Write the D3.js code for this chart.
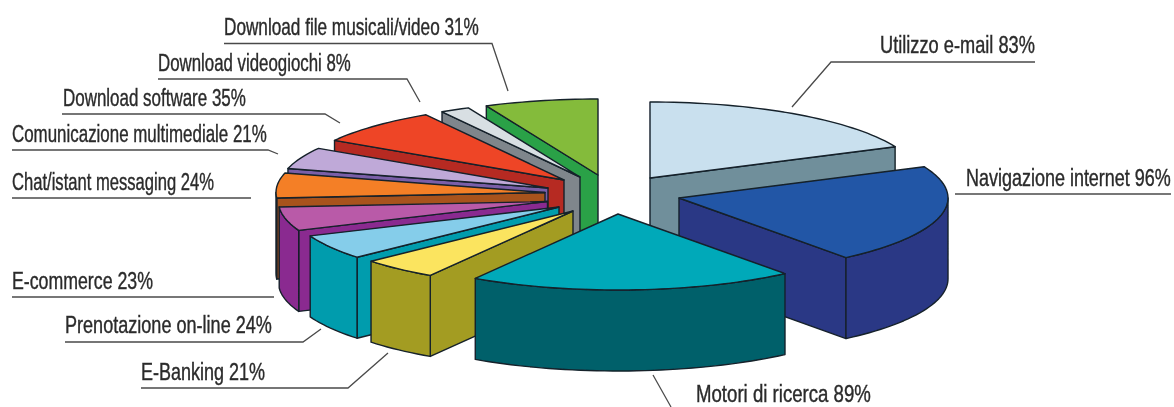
<!DOCTYPE html>
<html>
<head>
<meta charset="utf-8">
<script src="https://cdn.jsdelivr.net/npm/d3@7"></script>
<style>
  html, body { margin: 0; background: #fff; overflow: hidden; }
  svg { display: block; }
  text { font-family: "Liberation Sans Narrow", "Liberation Sans", sans-serif; fill: #2b2b2b; stroke: #2b2b2b; stroke-width: 0.4; }
</style>
</head>
<body>
<svg></svg>
<script>
// dati del grafico
const categories = ["Utilizzo e-mail", "Navigazione internet", "Motori di ricerca", "E-Banking",
    "Prenotazione on-line", "E-commerce", "Chat/istant messaging", "Comunicazione multimediale",
    "Download software", "Download videogiochi", "Download file musicali/video"];
const values = [83, 96, 89, 21, 24, 23, 24, 21, 35, 8, 31];

// colori: faccia superiore e pareti
const topColors = ["#c9e0ee", "#2356a6", "#00a9b9", "#fbe45e", "#85cdea", "#b95aa8", "#f47f26", "#bfa9d8", "#ee4527", "#d8dfe3", "#84bb3a"];
const wallColors = ["#6f8f9b", "#2b3785", "#00606b", "#a39c22", "#009cad", "#8a2a90", "#a8521f", "#7a5fa8", "#b62c20", "#7f868c", "#2aa147"];

// vertice di ogni fetta esplosa
const apexX = [650, 679, 618, 573, 559, 547.5, 545, 548, 564, 580, 598];
const apexY = [178, 198, 214, 211, 207, 201.5, 192.5, 188, 180, 177, 175];
// ordine di disegno, dal fondo al davanti
const drawOrder = [10, 9, 8, 7, 6, 5, 4, 3, 0, 1, 2];

// etichette: inizio/fine testo, baseline, linea guida
const labelX0 = [880, 966, 696, 141, 65, 12, 12, 12, 63, 158, 224];
const labelX1 = [1035, 1171, 871, 265, 272, 153, 214, 267, 246, 351, 479];
const labelY = [53, 186, 402, 380, 333, 289, 190, 142, 106, 71, 35];
const leaders = [
    [[1035, 62], [831, 62], [792, 107]],
    [[1171, 194], [955, 194]],
    [[671, 407], [653, 375]],
    [[141, 388], [348, 388], [388, 353]],
    [[65, 342], [303, 342], [321, 329]],
    [[12, 297], [274, 297]],
    [[12, 198], [251, 198]],
    [[12, 150], [268, 150], [278, 154]],
    [[62, 114], [325, 114], [340, 123]],
    [[158, 79], [407, 79], [420, 102]],
    [[224, 43.5], [492, 43.5], [508, 91]]
];

const width = 1174, height = 407;
const rx = 269, ry = 76, depth = 81;

const svg = d3.select("svg").attr("width", width).attr("height", height);

// leggera sfocatura come nella scansione
svg.append("defs").append("filter").attr("id", "soft")
    .append("feGaussianBlur").attr("stdDeviation", 0.4);
const root = svg.append("g").attr("filter", "url(#soft)");

const pie = d3.pie().sort(null).startAngle(0).endAngle(2 * Math.PI);
const arcs = pie(values);

const line = d3.line();

// punto sull'ellisse, angolo 0 in alto e senso orario
function pt(i, a, dz) {
    return [apexX[i] + Math.sin(a) * rx, apexY[i] - Math.cos(a) * ry + (dz || 0)];
}
function arcPoints(i, a0, a1, dz) {
    const n = Math.max(2, Math.ceil((a1 - a0) / 0.03));
    return d3.range(n + 1).map(k => pt(i, a0 + (a1 - a0) * k / n, dz));
}

const pieG = root.append("g")
    .attr("stroke", "#14202a")
    .attr("stroke-width", 1.4)
    .attr("stroke-linejoin", "round");

drawOrder.forEach(i => {
    const a0 = arcs[i].startAngle, a1 = arcs[i].endAngle;
    const g = pieG.append("g").attr("class", "slice");
    const apex = [apexX[i], apexY[i]];
    const apexB = [apexX[i], apexY[i] + depth];

    // parete radiale iniziale (visibile a sinistra)
    if (Math.sin(a0) < 0) {
        g.append("path").attr("d", line([apex, pt(i, a0), pt(i, a0, depth), apexB]) + "Z").attr("fill", wallColors[i]);
    }
    // parete radiale finale (visibile a destra)
    if (Math.sin(a1) > 0) {
        g.append("path").attr("d", line([apex, pt(i, a1), pt(i, a1, depth), apexB]) + "Z").attr("fill", wallColors[i]);
    }
    // parete esterna, solo la parte davanti
    const f0 = Math.max(a0, Math.PI / 2), f1 = Math.min(a1, 3 * Math.PI / 2);
    if (f1 > f0) {
        const up = arcPoints(i, f0, f1, 0);
        const down = arcPoints(i, f0, f1, depth).reverse();
        g.append("path").attr("d", line(up.concat(down)) + "Z").attr("fill", wallColors[i]);
    }
    // faccia superiore
    const face = [apex].concat(arcPoints(i, a0, a1, 0));
    g.append("path").attr("d", line(face) + "Z").attr("fill", topColors[i]);
});

// linee guida ed etichette
const labelG = root.append("g");
categories.forEach((name, i) => {
    labelG.append("path")
        .attr("d", line(leaders[i]))
        .attr("fill", "none")
        .attr("stroke", "#4a4a4a")
        .attr("stroke-width", 1.3);
    const t = labelG.append("text")
        .style("font-size", "24px")
        .text(`${name} ${values[i]}%`);
    // stringo il testo in orizzontale per avere il carattere condensato
    const sx = (labelX1[i] - labelX0[i]) / t.node().getComputedTextLength();
    t.attr("transform", `translate(${labelX0[i]},${labelY[i]}) scale(${sx},1)`);
});
</script>
</body>
</html>
